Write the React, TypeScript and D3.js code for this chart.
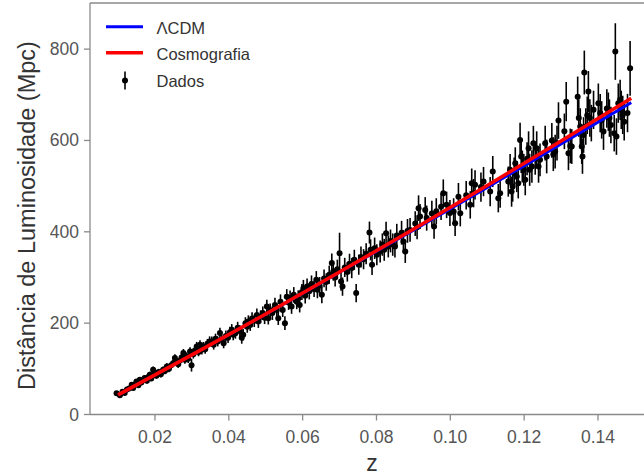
import React from "react";
import * as d3 from "d3";

const curveZ = [0.01, 0.03, 0.05, 0.07, 0.09, 0.11, 0.13, 0.149];
const cosmoD = [43, 130.5, 220, 312, 405.5, 501.5, 599, 692.5];
const lcdmD = [43, 130.3, 219.6, 311.5, 403.5, 497, 592.5, 683];

// ---- observed data (z, luminosity distance, error) ----
const dataZ = [
  0.0096, 0.0105, 0.0112, 0.0118, 0.0124, 0.013, 0.0137, 0.0141, 0.0146, 0.015,
  0.0155, 0.0159, 0.0163, 0.0168, 0.0172, 0.0178, 0.0182, 0.0186, 0.019, 0.0195,
  0.0199, 0.0204, 0.021, 0.0216, 0.0222, 0.0227, 0.0232, 0.0238, 0.0244, 0.025,
  0.0254, 0.0258, 0.0263, 0.0268, 0.0272, 0.0277, 0.0281, 0.0286, 0.029, 0.0295,
  0.0299, 0.0304, 0.0308, 0.0313, 0.0318, 0.0322, 0.0327, 0.0331, 0.0336, 0.0342,
  0.0348, 0.0354, 0.0359, 0.0364, 0.037, 0.0376, 0.0381, 0.0386, 0.0392, 0.0398,
  0.0403, 0.0408, 0.0412, 0.0418, 0.0424, 0.043, 0.0435, 0.0439, 0.0445, 0.045,
  0.0453, 0.0458, 0.0463, 0.0469, 0.0476, 0.048, 0.0486, 0.0492, 0.0497, 0.0503,
  0.0507, 0.0512, 0.0518, 0.0525, 0.053, 0.0534, 0.054, 0.0546, 0.0552, 0.0557,
  0.0562, 0.0566, 0.057, 0.0576, 0.0584, 0.0588, 0.0592, 0.0598, 0.0602, 0.0607,
  0.0612, 0.0618, 0.0624, 0.0631, 0.0637, 0.064, 0.0646, 0.0652, 0.0658, 0.0664,
  0.0672, 0.0679, 0.0683, 0.0688, 0.0694, 0.07, 0.0704, 0.0708, 0.0714, 0.0721,
  0.0727, 0.0733, 0.074, 0.0745, 0.0752, 0.0758, 0.0765, 0.0772, 0.0781, 0.0784,
  0.0788, 0.0795, 0.0801, 0.081, 0.0816, 0.0821, 0.0826, 0.0832, 0.0838, 0.0844,
  0.085, 0.0855, 0.0868, 0.0873, 0.0878, 0.0884, 0.0891, 0.0905, 0.091, 0.0914,
  0.0918, 0.0932, 0.0936, 0.095, 0.0956, 0.0962, 0.0975, 0.0981, 0.099, 0.0999,
  0.1009, 0.1013, 0.1022, 0.1027, 0.1043, 0.1054, 0.1058, 0.1063, 0.1067, 0.1083,
  0.109, 0.1108, 0.1115, 0.113, 0.1135, 0.1157, 0.1162, 0.1166, 0.1169, 0.1173,
  0.1176, 0.118, 0.1184, 0.1189, 0.1192, 0.1195, 0.1199, 0.1203, 0.1208, 0.1212,
  0.1215, 0.1221, 0.1225, 0.123, 0.1234, 0.1239, 0.1243, 0.1257, 0.1261, 0.1275,
  0.1279, 0.1284, 0.1289, 0.1293, 0.1309, 0.1314, 0.132, 0.1325, 0.1329, 0.1345,
  0.1348, 0.1352, 0.1356, 0.1358, 0.1361, 0.1363, 0.1367, 0.1371, 0.1374, 0.1378,
  0.1382, 0.1388, 0.1401, 0.1406, 0.141, 0.1415, 0.1424, 0.1428, 0.1431, 0.1435,
  0.1444, 0.1447, 0.145, 0.1455, 0.146, 0.1463, 0.1467, 0.1471, 0.148, 0.1487,
];
const dataD = [
  46.8, 42, 50, 47, 55, 57, 65, 58, 66, 72,
  64, 76, 70, 75, 80, 74, 82, 87, 79, 98,
  90.6, 85, 93, 88, 98, 95, 105, 100, 108, 112.5,
  123.5, 116, 110, 118, 125, 134.4, 119.7, 127, 122, 138,
  108, 132, 140, 148.9, 137, 152.6, 141.6, 148.9, 143, 155,
  160, 159.8, 152.6, 166, 160, 178.2, 163.5, 156, 172, 168,
  180, 185.4, 174.5, 178, 190, 183, 168, 174.5, 200, 192,
  203.6, 196, 210, 205, 218, 203.6, 214, 222, 212, 236.4,
  211, 228, 222, 240, 229, 211, 247, 229, 200, 258,
  245, 254.8, 236.4, 262, 247, 254.8, 240, 268, 276.7, 260,
  280, 270, 286, 275, 295, 273, 282, 262, 298, 290,
  306, 331.5, 313, 300, 318, 353, 291, 280, 322, 312,
  330, 320.5, 338.7, 266, 328, 345, 340, 352, 398.4, 360.5,
  327.7, 364, 350, 356.8, 372, 360.5, 397, 368, 380, 372,
  367.8, 392, 398, 378.7, 356.8, 402, 404, 418, 410, 451.8,
  433.5, 448, 430, 440, 411.6, 445, 455, 484.7, 459, 441,
  444.4, 419, 477, 440.9, 480, 459, 506.6, 484.7, 502.8, 498,
  510, 488, 532, 473.7, 484.7, 510, 535.7, 488, 499, 528.5,
  550, 521, 506.6, 601, 565, 543, 535.7, 514, 560, 583,
  535.7, 543, 594, 561, 583, 543, 557.6, 594, 565, 600,
  570, 575.8, 594, 643.6, 620, 685, 572, 588, 586.7, 696,
  649, 630.5, 586.7, 565, 612, 748.8, 630.5, 655, 707, 649,
  638, 667, 681.7, 660, 645, 619.5, 670, 663, 649, 634,
  616, 794.7, 608.6, 681.7, 689, 667, 656, 641, 660, 758,
];
const dataE = [
  4, 3.5, 4, 4, 4.5, 5, 5, 4.5, 5, 5,
  5, 6, 5, 5.5, 6, 6, 6, 6.5, 6, 7,
  6.5, 6.5, 7, 7, 7, 7, 7.5, 7.5, 8, 8,
  8.5, 8, 8, 8.5, 9, 9, 8.5, 9, 9, 9.5,
  14, 9.5, 10, 10, 9.5, 10, 10, 10, 10, 10.5,
  11, 11, 10.5, 11, 11, 12, 11, 11, 12, 11.5,
  12, 12.5, 12, 12, 13, 12.5, 13, 12.5, 13, 13,
  13.5, 13, 14, 13.5, 14, 14, 14, 14.5, 14, 15,
  14, 15, 15, 15.5, 15, 15, 16, 15.5, 15, 16.5,
  16, 16.5, 16, 17, 16.5, 17, 16.5, 17.5, 18, 17,
  18, 18, 18.5, 18, 19, 18.5, 19, 18.5, 19.5, 19,
  20, 21, 20, 20, 21, 45, 20, 20, 21, 21,
  22, 22, 22, 20, 22, 23, 22, 23, 24, 23,
  22, 23.5, 23, 24, 24.5, 24, 25, 24, 25, 24.5,
  24, 25.5, 26, 25, 25, 26, 26, 27, 26.5, 28,
  27.5, 28, 27.5, 28, 27, 28.5, 29, 30, 29, 28.5,
  29, 28, 30, 29, 31, 30, 32, 31, 32, 32,
  32, 32, 34, 31, 32, 33, 34.5, 33, 33, 34,
  35, 34, 33.5, 38, 36, 35, 35, 34, 36, 37,
  35, 35.5, 38, 36, 37, 35.5, 36, 38, 37, 38,
  37, 37, 38, 40, 39, 43, 37, 38, 38, 44,
  41, 40, 38, 38, 39, 48, 40, 41, 45, 41,
  40, 42, 43, 42, 41, 40, 42, 42, 41, 40,
  40, 62, 40, 43, 44, 42, 42, 41, 42, 60,
];

const xTicks = [0.02, 0.04, 0.06, 0.08, 0.1, 0.12, 0.14];
const xTickLabels = ["0.02", "0.04", "0.06", "0.08", "0.10", "0.12", "0.14"];
const yTicks = [0, 200, 400, 600, 800];
const legendLabels = ["\u039BCDM", "Cosmografia", "Dados"];

const W = 644;
const H = 475;
const FONT = "'Liberation Sans', Arial, Helvetica, sans-serif";

export default function App() {
  const x = d3.scaleLinear().domain([0.0024, 0.1568]).range([90, 660]);
  const y = d3.scaleLinear().domain([0, 901]).range([414.5, 3]);

  const line = (vals: number[]) =>
    d3
      .line<number>()
      .x((_, i) => x(curveZ[i]))
      .y((d) => y(d))
      .curve(d3.curveMonotoneX)(vals) || "";

  const spine = "#8a8a8a";
  const tickCol = "#555";

  return (
    <svg
      width={W}
      height={H}
      style={{ position: "absolute", left: 0, top: 0, background: "#fff" }}
      fontFamily={FONT}
    >
      <rect x={0} y={0} width={W} height={H} fill="#fff" />
      {/* spines */}
      <line x1={90} x2={90} y1={3} y2={414.5} stroke={spine} strokeWidth={1.3} />
      <line x1={90} x2={W} y1={414.5} y2={414.5} stroke={spine} strokeWidth={1.3} />
      <line x1={90} x2={W} y1={3} y2={3} stroke={spine} strokeWidth={1.3} />

      {/* y ticks */}
      {yTicks.map((t) => (
        <g key={"y" + t}>
          <line x1={84} x2={90} y1={y(t)} y2={y(t)} stroke={spine} strokeWidth={1.3} />
          <text
            x={79}
            y={y(t)}
            textAnchor="end"
            dominantBaseline="central"
            fontSize={17.5}
            fill={tickCol}
          >
            {t}
          </text>
        </g>
      ))}
      {/* x ticks */}
      {xTicks.map((t, i) => (
        <g key={"x" + t}>
          <line x1={x(t)} x2={x(t)} y1={414.5} y2={420.5} stroke={spine} strokeWidth={1.3} />
          <text
            x={x(t)}
            y={437}
            textAnchor="middle"
            dominantBaseline="central"
            fontSize={17.5}
            fill={tickCol}
          >
            {xTickLabels[i]}
          </text>
        </g>
      ))}

      {/* axis labels */}
      <text
        x={372}
        y={463}
        textAnchor="middle"
        dominantBaseline="central"
        fontSize={23}
        fill="#333"
      >
        z
      </text>
      <text
        transform={`translate(27,${215.5}) rotate(-90)`}
        textAnchor="middle"
        dominantBaseline="central"
        fontSize={23.5}
        fill="#333"
      >
        Distância de Luminosidade (Mpc)
      </text>

      {/* data with error bars */}
      <g>
        {dataZ.map((z, i) => (
          <line
            key={"e" + i}
            x1={x(z)}
            x2={x(z)}
            y1={y(dataD[i] - dataE[i])}
            y2={y(dataD[i] + dataE[i])}
            stroke="#000"
            strokeWidth={1.6}
          />
        ))}
        {dataZ.map((z, i) => (
          <circle key={"p" + i} cx={x(z)} cy={y(dataD[i])} r={3} fill="#000" />
        ))}
      </g>

      {/* model curves */}
      <path d={line(lcdmD)} fill="none" stroke="#0000ff" strokeWidth={3} />
      <path d={line(cosmoD)} fill="none" stroke="#ff0000" strokeWidth={3.5} />

      {/* legend */}
      <g fontSize={16.5} fill="#333">
        <line x1={106} x2={143} y1={26.7} y2={26.7} stroke="#0000ff" strokeWidth={3} />
        <text x={156.5} y={27.5} dominantBaseline="central">
          {legendLabels[0]}
        </text>
        <line x1={106} x2={143} y1={52.7} y2={52.7} stroke="#ff0000" strokeWidth={3.5} />
        <text x={156.5} y={53.5} dominantBaseline="central">
          {legendLabels[1]}
        </text>
        <line x1={125} x2={125} y1={71.5} y2={89.5} stroke="#000" strokeWidth={1.6} />
        <circle cx={125} cy={80.5} r={3} fill="#000" />
        <text x={156.5} y={80.5} dominantBaseline="central">
          {legendLabels[2]}
        </text>
      </g>
    </svg>
  );
}
